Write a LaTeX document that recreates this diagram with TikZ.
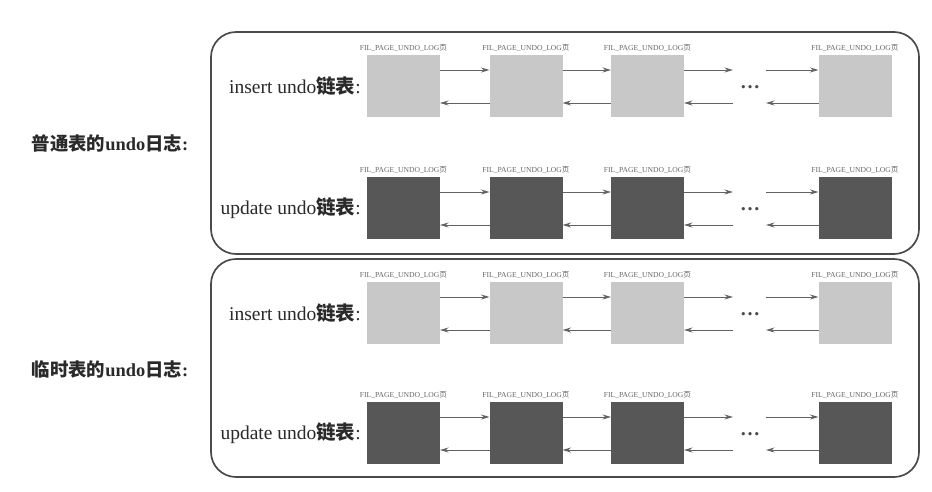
\documentclass[tikz,border=0pt]{standalone}
\usepackage{fontspec}
\setmainfont{Liberation Serif}
\newfontfamily\cjk{Noto Sans CJK SC}
\usetikzlibrary{arrows.meta}
\definecolor{txt}{HTML}{2A2A2A}
\definecolor{lightpg}{HTML}{C8C8C8}
\definecolor{darkpg}{HTML}{575757}
\definecolor{framec}{HTML}{4A4A4A}
\definecolor{arrc}{HTML}{626262}
\tikzset{
  pagebox/.style={draw=none, minimum width=73pt, minimum height=62pt, inner sep=0pt, outer sep=0pt},
  insbox/.style={pagebox, fill=lightpg},
  updbox/.style={pagebox, fill=darkpg},
  fil/.style={font=\fontsize{7.6}{8}\selectfont, text=black!60, inner sep=0pt, anchor=south},
  rowlab/.style={font=\fontsize{19.5}{22}\selectfont, text=txt, anchor=east, inner sep=0pt},
  sidelab/.style={font=\fontsize{18.4}{22}\selectfont\bfseries, text=txt, inner sep=0pt},
  frm/.style={draw=framec, line width=1.7pt, rounded corners=25pt},
  arr/.style={draw=arrc, line width=1pt, -{Stealth[length=8.5pt,width=5pt]}},
  dotsn/.style={font=\fontsize{20}{22}\selectfont\bfseries, text=txt!85, inner sep=0pt}
}
\newcommand{\undorow}[3]{%
  \node[#3] (#1b1) at (403.5,#2) {};
  \node[#3] (#1b2) at (526,#2) {};
  \node[#3] (#1b3) at (647.5,#2) {};
  \node[#3] (#1b4) at (855,#2) {};
  \node[dotsn] (#1d) at (750,#2+1) {…};
  \foreach \b in {b1,b2,b3,b4}{
    \node[fil] (#1\b l) at ([yshift=3pt]#1\b.north) {FIL\_PAGE\_UNDO\_LOG{\cjk 页}};
  }
  \coordinate (#1fa) at (733,#2-16);
  \coordinate (#1fb) at (766,#2-16);
  \coordinate (#1ba) at (733,#2+17);
  \coordinate (#1bb) at (766,#2+17);
  \draw[arr] ([yshift=16pt]#1b1.east) -- ([yshift=16pt]#1b2.west);
  \draw[arr] ([yshift=16pt]#1b2.east) -- ([yshift=16pt]#1b3.west);
  \draw[arr] ([yshift=16pt]#1b3.east) -- (#1fa);
  \draw[arr] (#1fb) -- ([yshift=16pt]#1b4.west);
  \draw[arr] ([yshift=-17pt]#1b2.west) -- ([yshift=-17pt]#1b1.east);
  \draw[arr] ([yshift=-17pt]#1b3.west) -- ([yshift=-17pt]#1b2.east);
  \draw[arr] (#1ba) -- ([yshift=-17pt]#1b3.east);
  \draw[arr] ([yshift=-17pt]#1b4.west) -- (#1bb);
}
\begin{document}
\begin{tikzpicture}[x=1pt,y=-1pt]
\useasboundingbox (0,0) rectangle (932,491);
\fill[white] (0,0) rectangle (932,491);
% frames
\draw[frm] (211,32) rectangle (919,254);
\draw[frm] (211,259) rectangle (919,477);
% side labels
\node[sidelab] (s1) at (110,143) {{\cjk 普通表的}undo{\cjk 日志}:};
\node[sidelab] (s2) at (110,369) {{\cjk 临时表的}undo{\cjk 日志}:};
% rows
\undorow{ra}{86}{insbox}
\node[rowlab] (la) at (361,86) {insert undo{\cjk\bfseries 链表}:};
\undorow{rb}{208}{updbox}
\node[rowlab] (lb) at (361,208) {update undo{\cjk\bfseries 链表}:};
\undorow{rc}{313}{insbox}
\node[rowlab] (lc) at (361,313) {insert undo{\cjk\bfseries 链表}:};
\undorow{rd}{433}{updbox}
\node[rowlab] (ld) at (361,433) {update undo{\cjk\bfseries 链表}:};
\end{tikzpicture}
\end{document}
